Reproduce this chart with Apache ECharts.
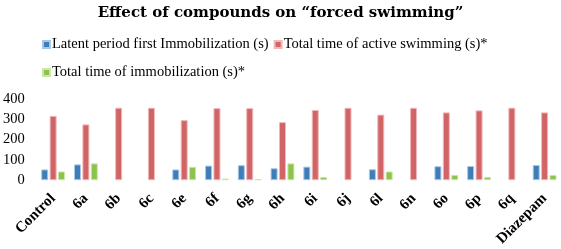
<!DOCTYPE html>
<html>
<head>
<meta charset="utf-8">
<script src="https://cdn.jsdelivr.net/npm/echarts@6/dist/echarts.min.js"></script>
<style>html,body{margin:0;padding:0;background:#fff;}#c{width:561px;height:249px;}</style>
</head>
<body>
<div id="c"></div>
<script>
const categories = ["Control","6a","6b","6c","6e","6f","6g","6h","6i","6j","6l","6n","6o","6p","6q","Diazepam"];
const latentPeriod = [53, 78, 0, 0, 53, 72, 74, 59, 67, 0, 54, 0, 69, 70, 0, 75];
const activeSwimming = [317, 275, 357, 357, 296, 355, 355, 286, 346, 357, 323, 357, 334, 344, 357, 334];
const immobilization = [43, 83, 0, 0, 66, 8, 5, 83, 16, 0, 43, 0, 26, 16, 0, 26];
const yTicks = [0, 100, 200, 300, 400];
const seriesNames = ["Latent period first Immobilization (s)", "Total time of active swimming (s)*", "Total time of immobilization (s)*"];

const serif = "Liberation Serif";
const chart = echarts.init(document.getElementById('c'));
function bar(name, data, color, border) {
  return {
    name: name, type: 'bar', barWidth: 7, barGap: '20%',
    data: data.map(v => v === 0 ? {value: 0, itemStyle: {borderWidth: 0}} : v),
    itemStyle: {color: color, borderColor: border, borderWidth: 1},
    emphasis: {disabled: true}
  };
}
const legendText = {fontFamily: serif, fontSize: 14.5, color: '#000', padding: [0,0,0,-3]};
chart.setOption({
  animation: false,
  title: {
    text: 'Effect of compounds on \u201cforced swimming\u201d',
    left: 'center', top: 1,
    textStyle: {fontFamily: 'DejaVu Serif', fontWeight: 'bold', fontSize: 15, color: '#000'}
  },
  legend: [
    {data: [seriesNames[0], seriesNames[1]], left: 37, top: 32, itemWidth: 7, itemHeight: 7, itemGap: 5,
     icon: 'rect', textStyle: legendText},
    {data: [seriesNames[2]], left: 37, top: 60, itemWidth: 7, itemHeight: 7, itemGap: 5,
     icon: 'rect', textStyle: legendText}
  ],
  grid: {left: 35, width: 530, top: 99, bottom: 67, containLabel: false},
  xAxis: {
    type: 'category', data: categories,
    axisLine: {show: false}, axisTick: {show: false},
    axisLabel: {rotate: 45, margin: 16, interval: 0, fontFamily: serif, fontWeight: 'bold', fontSize: 15, color: '#000'}
  },
  yAxis: {
    type: 'value', min: yTicks[0], max: yTicks[yTicks.length-1], interval: 100,
    axisLine: {show: false}, axisTick: {show: false}, splitLine: {show: false},
    axisLabel: {margin: 12, fontFamily: serif, fontSize: 14.5, color: '#000'}
  },
  series: [
    bar(seriesNames[0], latentPeriod, '#3f7db9', '#a9c8e6'),
    bar(seriesNames[1], activeSwimming, '#d06466', '#f0b8b9'),
    bar(seriesNames[2], immobilization, '#8dc24d', '#cbe6a8')
  ]
});
</script>
</body>
</html>
